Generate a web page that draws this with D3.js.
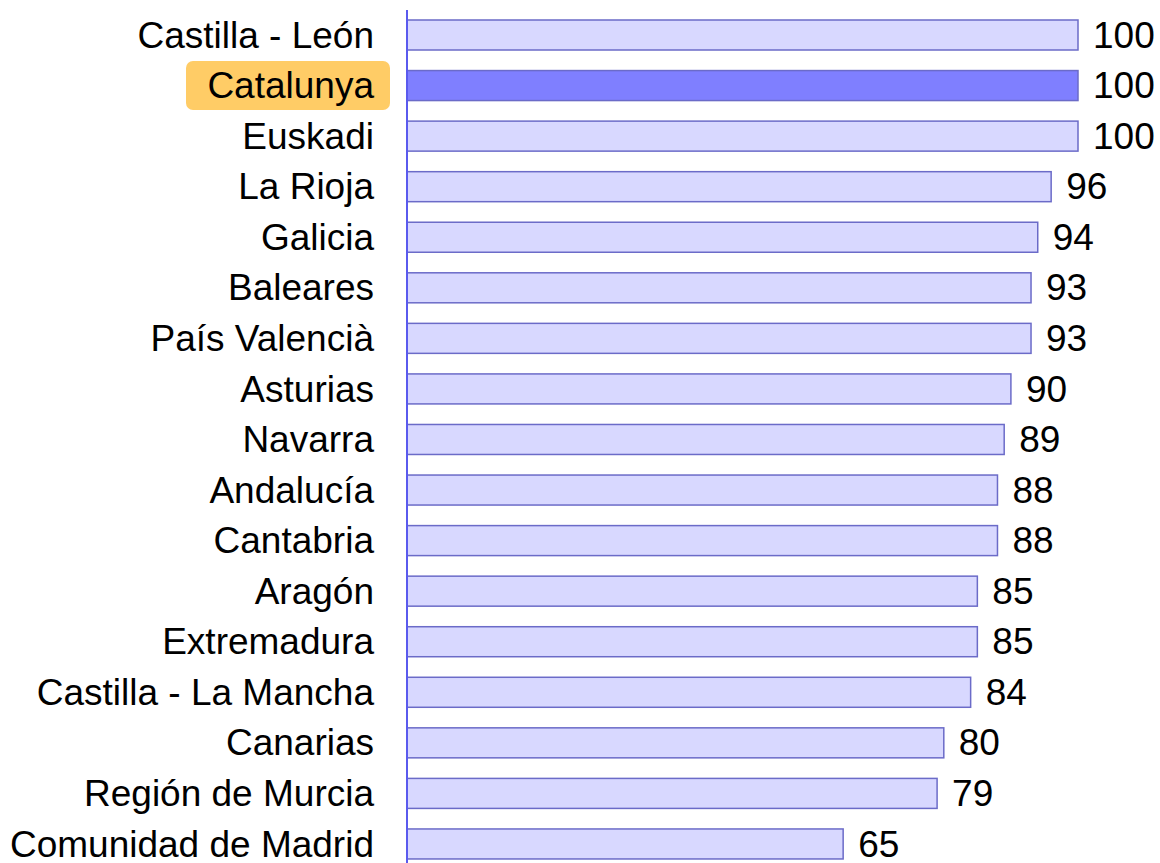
<!DOCTYPE html>
<meta charset="utf-8" />
<style>
  body { margin: 0; background: #fff; }
  text { font-family: "Liberation Sans", Arial, sans-serif; fill: #000; }
  .bar { stroke: #6b6bc8; stroke-width: 1.5; }
</style>
<body>
  <div id="chart"></div>
  <script src="https://cdn.jsdelivr.net/npm/d3@7"></script>
  <script>
    const regions = [
      "Castilla - León", "Catalunya", "Euskadi", "La Rioja", "Galicia",
      "Baleares", "País Valencià", "Asturias", "Navarra", "Andalucía",
      "Cantabria", "Aragón", "Extremadura", "Castilla - La Mancha",
      "Canarias", "Región de Murcia", "Comunidad de Madrid"
    ];
    const values = [100, 100, 100, 96, 94, 93, 93, 90, 89, 88, 88, 85, 85, 84, 80, 79, 65];
    const highlight = "Catalunya";

    const width = 1160;
    const height = 863;
    const step = 50.56;

    const svg = d3.select("#chart")
      .append("svg")
      .attr("width", width)
      .attr("height", height);

    const x = d3.scaleLinear().domain([0, 100]).range([407, 1078]);

    const y = d3.scaleBand()
      .domain(regions)
      .range([20 - 0.2 * step, 20 - 0.2 * step + step * (17 - 0.4066 + 0.4)])
      .paddingInner(0.4066)
      .paddingOuter(0.2);

    const data = regions.map((r, i) => ({ name: r, value: values[i] }));

    // highlight box behind the label
    svg.append("rect")
      .attr("x", 186)
      .attr("y", y(highlight) + y.bandwidth() / 2 - 24.5)
      .attr("width", 204)
      .attr("height", 49)
      .attr("rx", 7)
      .attr("fill", "#ffcc66");

    svg.selectAll(".bar")
      .data(data)
      .enter()
      .append("rect")
      .attr("class", "bar")
      .attr("x", x(0))
      .attr("y", (d) => y(d.name))
      .attr("width", (d) => x(d.value) - x(0))
      .attr("height", y.bandwidth())
      .attr("fill", (d) => (d.name === highlight ? "#7f7fff" : "#d8d8ff"));

    svg.append("line")
      .attr("x1", x(0))
      .attr("x2", x(0))
      .attr("y1", 10)
      .attr("y2", height)
      .attr("stroke", "#5a5aee")
      .attr("stroke-width", 2);

    svg.selectAll(".label")
      .data(data)
      .enter()
      .append("text")
      .attr("class", "label")
      .attr("x", 374)
      .attr("y", (d) => y(d.name) + y.bandwidth() / 2)
      .attr("dy", "0.34em")
      .attr("text-anchor", "end")
      .style("font-size", "37px")
      .text((d) => d.name);

    svg.selectAll(".value")
      .data(data)
      .enter()
      .append("text")
      .attr("class", "value")
      .attr("x", (d) => x(d.value) + 15)
      .attr("y", (d) => y(d.name) + y.bandwidth() / 2)
      .attr("dy", "0.34em")
      .style("font-size", "37px")
      .text((d) => d.value);
  </script>
</body>
